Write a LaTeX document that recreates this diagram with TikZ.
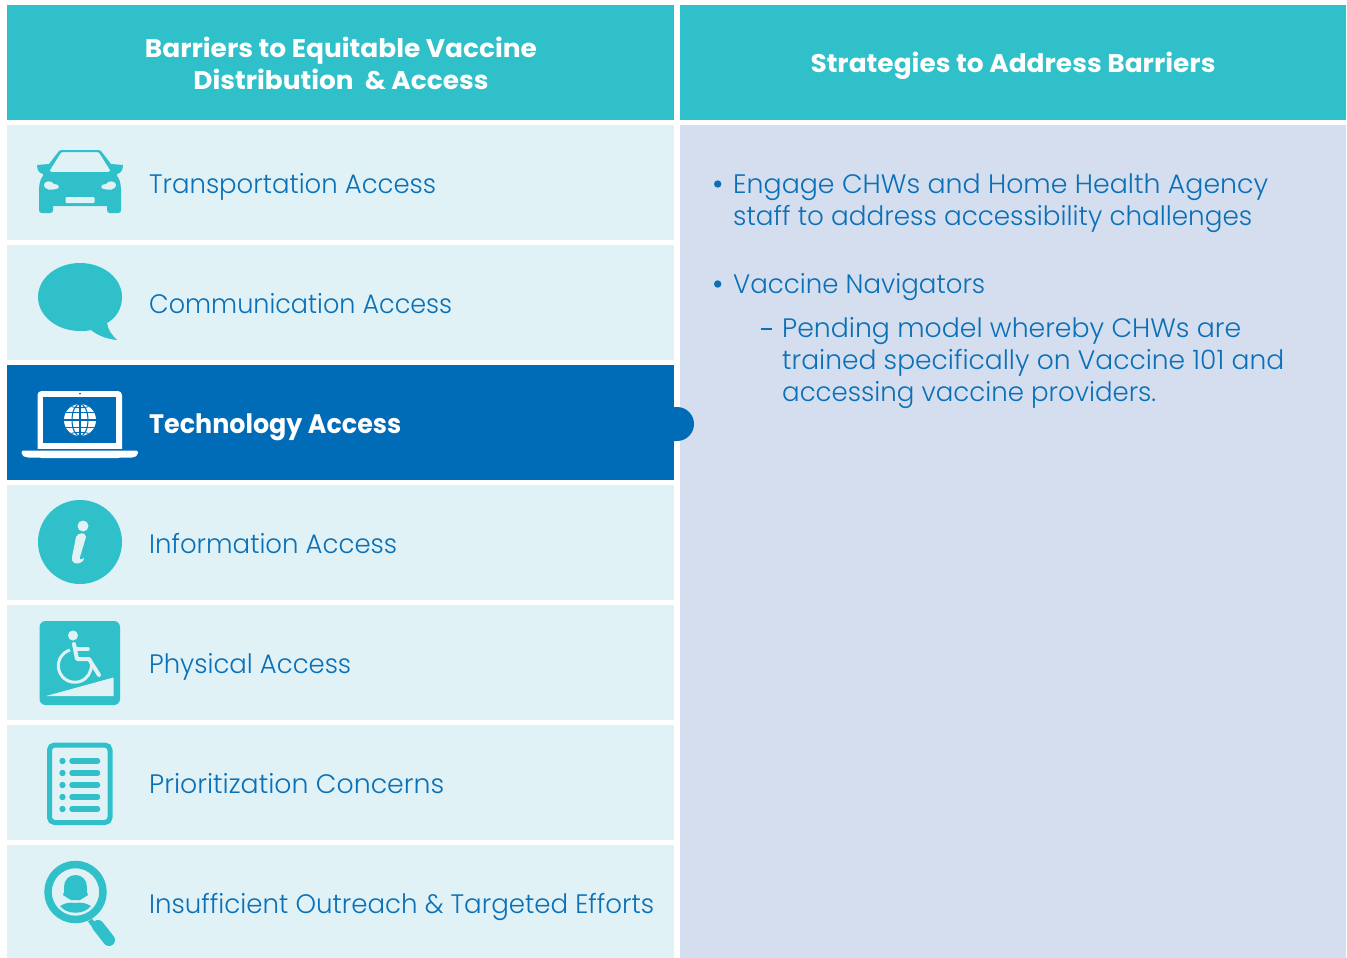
\documentclass[tikz,border=0pt]{standalone}
\usepackage{graphicx}
\usepackage{fontspec}
\setmainfont{Poppins}[UprightFont={* Light},BoldFont={* Bold}]
\definecolor{teal1}{HTML}{2FC0C9}
\definecolor{pale}{HTML}{E0F2F6}
\definecolor{lav}{HTML}{D5DEEF}
\definecolor{blue1}{HTML}{006BB6}
\definecolor{txt}{HTML}{0A70B8}
\newcommand{\bodyfont}{\fontsize{26.7}{32}\selectfont}
\newcommand{\headfont}{\fontsize{25.5}{32}\selectfont\bfseries}
\newcommand{\fitw}[2]{\resizebox{#1pt}{\height}{#2}}
\tikzset{
 x=1pt,y=-1pt,
 head/.style={fill=teal1,draw=none,anchor=north west,inner sep=0,minimum height=114.5pt},
 row/.style={fill=pale,draw=none,anchor=north west,inner sep=0,minimum width=667pt,minimum height=114.5pt},
 lab/.style={anchor=base west,inner sep=0,text=txt,font=\bodyfont},
 headlab/.style={anchor=base,inner sep=0,text=white,font=\headfont},
 icon/.style={fill=teal1,draw=none},
}
\begin{document}
\begin{tikzpicture}
\useasboundingbox (0,0) rectangle (1347,958);
\fill[white] (0,0) rectangle (1347,958);
\node[head,minimum width=667pt] (h1) at (7,5) {};
\node[head,minimum width=666.5pt] (h2) at (679.5,5) {};
\node[headlab] (ht1) at (341,57) {\fitw{392}{Barriers to Equitable Vaccine}};
\node[headlab] (ht1b) at (341,89) {\fitw{295}{Distribution \ \& Access}};
\node[headlab] (ht2) at (1013,73) {\fitw{405}{Strategies to Address Barriers}};
\node[row] (r1) at (7,125) {};
\node[row] (r2) at (7,245) {};
\node[row,fill=blue1] (r3) at (7,365) {};
\node[row] (r4) at (7,485) {};
\node[row] (r5) at (7,605) {};
\node[row] (r6) at (7,725) {};
\node[row,minimum height=113pt] (r7) at (7,845) {};
\node[fill=lav,anchor=north west,inner sep=0,minimum width=666.5pt,minimum height=833pt] (panel) at (679.5,125) {};
\fill[blue1] (674,407) -- (677,407) arc (90:-90:17pt) -- (674,441) -- cycle;
% labels
\node[lab] (l1) at (149,193) {\fitw{287}{Transportation Access}};
\node[lab] (l2) at (149,313) {\fitw{303}{Communication Access}};
\node[lab,text=white,font=\bodyfont\bfseries] (l3) at (149,433) {\fitw{252}{Technology Access}};
\node[lab] (l4) at (149,553) {\fitw{248}{Information Access}};
\node[lab] (l5) at (149,673) {\fitw{202}{Physical Access}};
\node[lab] (l6) at (149,793) {\fitw{295}{Prioritization Concerns}};
\node[lab] (l7) at (149,913) {\fitw{505}{Insufficient Outreach \& Targeted Efforts}};
% right text
\fill[txt] (717.7,184) circle (3.7pt);
\fill[txt] (717.7,284) circle (3.7pt);
\fill[txt] (761,327.5) rectangle (772,329.5);
\node[lab] (t1) at (733,193) {\fitw{535}{Engage CHWs and Home Health Agency}};
\node[lab] (t2) at (733,225) {\fitw{519}{staff to address accessibility challenges}};
\node[lab] (t3) at (733,293) {\fitw{252}{Vaccine Navigators}};
\node[lab] (t4) at (782,337) {\fitw{459}{Pending model whereby CHWs are}};
\node[lab] (t5) at (782,369) {\fitw{502}{trained specifically on Vaccine 101 and}};
\node[lab] (t6) at (782,401) {\fitw{374}{accessing vaccine providers.}};
% car
\fill[icon,even odd rule] (39,192) .. controls (39,182) and (41,178) .. (43,176) -- (43,174) .. controls (39,173) and (37,170) .. (37,165) -- (49,164) -- (59,151) .. controls (60,150) and (62,150) .. (64,150)
 -- (96,150) .. controls (98,150) and (100,150) .. (101,151) -- (111,164) -- (123,165) .. controls (123,170) and (121,173) .. (117,174) -- (117,176) .. controls (119,178) and (121,182) .. (121,192)
 -- (121,210) .. controls (121,212) and (120,213) .. (118,213) -- (110,213) .. controls (108,213) and (107,212) .. (107,210) -- (107,206) -- (53,206) -- (53,210) .. controls (53,212) and (52,213) .. (50,213) -- (42,213) .. controls (40,213) and (39,212) .. (39,210) -- cycle
 (50,170) -- (60,154) .. controls (61,152) and (62,152) .. (64,152) -- (96,152) .. controls (98,152) and (99,152) .. (100,154) -- (110,170) .. controls (110,171) and (110,172) .. (108,172) -- (52,172) .. controls (50,172) and (50,171) .. (50,170) -- cycle;
\fill[pale] (44,184) .. controls (46,180) and (52,181) .. (54,184) .. controls (60,184) and (60,189) .. (56,189) .. controls (52,190) and (44,191) .. (44,184) -- cycle;
\fill[pale] (116,184) .. controls (114,180) and (108,181) .. (106,184) .. controls (100,184) and (100,189) .. (104,189) .. controls (108,190) and (116,191) .. (116,184) -- cycle;
\fill[pale,rounded corners=1pt] (65.5,197) rectangle (94.5,203);
% speech bubble
\fill[icon] (80,263) .. controls (103,263) and (122,278) .. (122,297) .. controls (122,309) and (116,318) .. (107,323) .. controls (108,330) and (112,335) .. (117,340) .. controls (106,339) and (97,335) .. (91,330) .. controls (87,331) and (84,331) .. (80,331) .. controls (57,331) and (38,316) .. (38,297) .. controls (38,278) and (57,263) .. (80,263) -- cycle;
% laptop
\fill[white,rounded corners=4pt] (37.5,458) -- (37.5,391) -- (122,391) -- (122,458) -- cycle;
\fill[blue1] (43,397) rectangle (116,443);
\fill[blue1] (80,393.5) circle (1pt);
\fill[blue1] (30,449) rectangle (130,450.5);
\fill[white,rounded corners=2pt] (21.5,450.5) -- (138,450.5) -- (138,455) -- (134,457.5) -- (26,457.5) -- (21.5,455) -- cycle;
\begin{scope}
\clip (80,420) circle (16pt);
\fill[white] (64,404) rectangle (96,436);
\draw[blue1,line width=1.1pt] (80,404) -- (80,436) (64,412.5) -- (96,412.5) (64,420) -- (96,420) (64,427.5) -- (96,427.5);
\draw[blue1,line width=1.1pt] (80,420) ellipse (8pt and 16pt);
\draw[blue1,line width=0.9pt] (66,404) .. controls (72,409) and (88,409) .. (94,404);
\draw[blue1,line width=0.9pt] (66,436) .. controls (72,431) and (88,431) .. (94,436);
\end{scope}
% info
\fill[icon] (80,542) circle (42pt);
\fill[pale] (83,526) circle (5.5pt);
\fill[pale] (76,537) .. controls (78,532) and (86,532) .. (86,537) -- (80,557) .. controls (79,560) and (81,560) .. (84,558) -- (83,561) .. controls (79,565) and (71,565) .. (72,557) -- cycle;
% physical
\fill[icon,rounded corners=6pt] (39.5,621) rectangle (120,705);
\fill[pale] (46,696) -- (113.5,677.5) -- (113.5,696) -- cycle;
\fill[pale] (73,635.5) circle (5pt);
\draw[pale,line width=4pt,line cap=round,line join=round] (74,644) -- (77,659) -- (89,659) -- (99,675);
\draw[pale,line width=3.5pt,line cap=round] (76,649) -- (88,649);
\draw[pale,line width=3pt] (70,650) arc (107:365:16.5pt);
% list
\draw[teal1,line width=5pt,rounded corners=5pt] (49.5,745) rectangle (110,822.5);
\foreach \yy in {761,773,785,797,809}{
 \fill[teal1] (62.5,\yy) circle (3.2pt);
 \draw[teal1,line width=5.5pt,line cap=round] (72,\yy) -- (97.5,\yy);
}
% magnifier
\draw[teal1,line width=7.5pt] (75.5,892) circle (27.5pt);
\draw[teal1,line width=5pt] (90,920) -- (96,928);
\draw[teal1,line width=12pt,line cap=round] (98,926) -- (109,940);
\fill[teal1] (75.5,875) .. controls (69,875) and (64,880) .. (64,887) .. controls (64,890) and (65,893) .. (63,895) .. controls (66,897) and (69,899) .. (71,900) -- (80,900) .. controls (82,899) and (85,897) .. (88,895) .. controls (86,893) and (87,890) .. (87,887) .. controls (87,880) and (82,875) .. (75.5,875) -- cycle;
\fill[teal1] (60,906) .. controls (65,903) and (70,902) .. (75.5,903) .. controls (81,902) and (86,903) .. (91,906) .. controls (84,915) and (67,915) .. (60,906) -- cycle;
\end{tikzpicture}
\end{document}
